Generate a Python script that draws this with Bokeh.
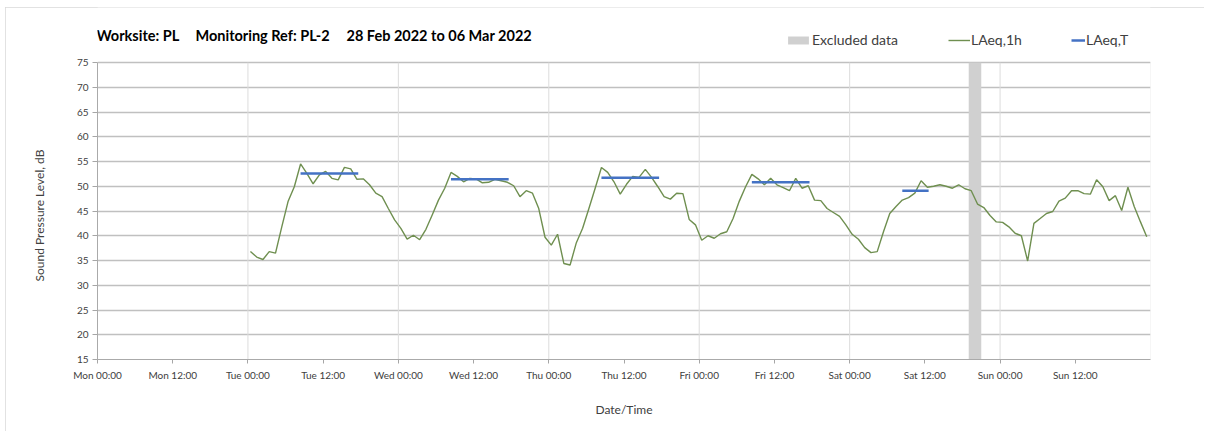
from bokeh.plotting import figure
from bokeh.models import FixedTicker, Label, Legend, LegendItem, Range1d, BoxAnnotation, Title
from bokeh.embed import file_html
from bokeh.resources import INLINE

# ---------------- data ----------------
TITLE_PARTS = ["Worksite: PL", "Monitoring Ref: PL-2", "28 Feb 2022 to 06 Mar 2022"]
Y_TITLE = "Sound Pressure Level, dB"
X_TITLE = "Date/Time"
Y_TICKS = [15, 20, 25, 30, 35, 40, 45, 50, 55, 60, 65, 70, 75]
X_TICK_HOURS = [0, 12, 24, 36, 48, 60, 72, 84, 96, 108, 120, 132, 144, 156]
X_TICK_LABELS = ["Mon 00:00", "Mon 12:00", "Tue 00:00", "Tue 12:00", "Wed 00:00",
                 "Wed 12:00", "Thu 00:00", "Thu 12:00", "Fri 00:00", "Fri 12:00",
                 "Sat 00:00", "Sat 12:00", "Sun 00:00", "Sun 12:00"]
DAY_GRID_HOURS = [24, 48, 72, 96, 120, 144]

# hourly LAeq,1h from Tue 00:00 (hours since Mon 00:00)
laeq_1h_start_hour = 24.4
laeq_1h = [
    # Tue
    36.8, 35.7, 35.2, 36.8, 36.5, 41.8, 46.9, 49.9, 54.5, 52.6, 50.5, 52.3,
    53.0, 51.6, 51.3, 53.8, 53.5, 51.4, 51.5, 50.3, 48.6, 47.9, 45.5, 43.2,
    # Wed
    41.5, 39.3, 40.1, 39.2, 41.3, 44.2, 47.2, 49.6, 52.8, 52.0, 50.9, 51.6,
    51.5, 50.7, 50.8, 51.4, 51.1, 50.8, 50.1, 47.9, 49.1, 48.6, 45.5, 39.7,
    # Thu
    38.1, 40.3, 34.4, 34.1, 38.6, 41.5, 45.5, 49.6, 53.8, 52.8, 50.9, 48.4,
    50.4, 52.0, 51.8, 53.4, 51.8, 49.9, 47.9, 47.4, 48.6, 48.5, 43.3, 42.2,
    # Fri
    39.1, 40.0, 39.5, 40.4, 40.8, 43.5, 47.0, 49.9, 52.4, 51.5, 50.3, 51.6,
    50.3, 49.7, 49.1, 51.6, 49.6, 50.1, 47.2, 47.1, 45.5, 44.7, 43.9, 42.2,
    # Sat
    40.3, 39.3, 37.6, 36.6, 36.8, 40.8, 44.5, 45.9, 47.2, 47.7, 48.6, 51.1,
    49.8, 50.0, 50.3, 50.0, 49.6, 50.3, 49.5, 49.1, 46.4, 45.7, 44.1, 42.8,
    # Sun
    42.7, 41.8, 40.5, 40.0, 34.9, 42.5, 43.5, 44.5, 44.9, 47.0, 47.6, 49.1,
    49.1, 48.5, 48.4, 51.3, 49.9, 47.1, 48.1, 45.1, 49.8, 45.9, 42.8, 39.8,
]
laeq_1h_hours = [laeq_1h_start_hour + i for i in range(len(laeq_1h))]

# LAeq,T working-period levels
laeq_T_start = [32.4, 56.4, 80.4, 104.4, 128.4]
laeq_T_end = [41.6, 65.6, 89.6, 113.6, 132.6]
laeq_T = [52.6, 51.4, 51.7, 50.8, 49.1]

# excluded data period (hours since Mon 00:00)
excluded_start = [139.0]
excluded_end = [141.0]

Y_MIN, Y_MAX = 15, 75
X_MIN, X_MAX = 0, 168

FONT = "Lato"
TXT = "#404040"

# layout (page coordinates)
OX, OY = 5, 7                      # figure origin on page
FR_L, FR_R, FR_B = 97, 1150, 359   # frame left/right/bottom
PLOT_TOP = 62                      # pixel row of the 75 dB line
W, H = 1204 - OX, 431 - OY
frame_h = FR_B - OY
y_top = Y_MIN + frame_h * (Y_MAX - Y_MIN) / (FR_B - PLOT_TOP)

p = figure(width=W, height=H, x_range=Range1d(X_MIN, X_MAX), y_range=Range1d(Y_MIN, y_top),
           output_backend="svg", toolbar_location=None,
           min_border_left=FR_L - OX, min_border_right=W - (FR_R - OX),
           min_border_top=0, min_border_bottom=H - (FR_B - OY))
p.styles = {"outline": "1px solid #d9d9d9", "outline-offset": "-1px",
            "margin-left": f"{OX}px", "margin-top": f"{OY}px"}
p.background_fill_color = "white"
p.border_fill_color = "white"
p.outline_line_color = None

# vertical day gridlines (limited to the plot area)
p.segment(x0=DAY_GRID_HOURS, y0=[Y_MIN] * len(DAY_GRID_HOURS),
          x1=DAY_GRID_HOURS, y1=[Y_MAX] * len(DAY_GRID_HOURS),
          line_color="#dcdcdc", line_width=1)

excl = p.quad(left=excluded_start, right=excluded_end, bottom=[Y_MIN], top=[Y_MAX],
              fill_color="#d0d0d0", line_color=None)
green = p.line(laeq_1h_hours, laeq_1h, line_color="#6f8f50", line_width=1.4)
blue = p.segment(x0=laeq_T_start, y0=laeq_T, x1=laeq_T_end, y1=laeq_T,
                 line_color="#4472c4", line_width=2.5)

# plot-area border
p.add_layout(BoxAnnotation(left=X_MIN, right=X_MAX, bottom=Y_MIN, top=Y_MAX,
                           fill_alpha=0, line_color="#bfbfbf", line_width=1))

# axes
xa = p.xaxis[0]
xa.ticker = FixedTicker(ticks=X_TICK_HOURS)
xa.major_label_overrides = {h: l for h, l in zip(X_TICK_HOURS, X_TICK_LABELS)}
ya = p.yaxis[0]
ya.ticker = FixedTicker(ticks=Y_TICKS)
ya.bounds = (Y_MIN, Y_MAX)
for ax in (xa, ya):
    ax.minor_tick_line_color = None
    ax.major_tick_in = 0
    ax.axis_line_color = "#a6a6a6"
    ax.major_tick_line_color = "#a6a6a6"
    ax.major_label_text_font = FONT
    ax.major_label_text_font_size = "10px"
    ax.major_label_text_color = TXT
    ax.axis_label_text_font = FONT
    ax.axis_label_text_font_size = "12px"
    ax.axis_label_text_font_style = "normal"
    ax.axis_label_text_color = TXT
xa.axis_label = X_TITLE
xa.major_tick_out = 4
xa.major_label_standoff = 5
xa.axis_label_standoff = 18
ya.major_tick_out = 5
ya.major_label_standoff = 4

# y-axis title, centred on the 15-75 dB plot area
p.add_layout(Title(text=Y_TITLE, align="left", offset=78, standoff=50,
                   vertical_align="top",
                   text_font=FONT, text_font_size="12px", text_font_style="normal",
                   text_color=TXT), "left")

p.xgrid[0].visible = False
p.ygrid[0].ticker = FixedTicker(ticks=Y_TICKS)
p.ygrid[0].grid_line_color = "#c0c0c0"
p.ygrid[0].grid_line_width = 1.3

# chart title
title_x = [96, 195, 346]
for t, xx in zip(TITLE_PARTS, title_x):
    p.add_layout(Label(x=xx - FR_L, y=FR_B - 35, x_units="screen", y_units="screen",
                       text=t, text_font=FONT, text_font_size="14.5px",
                       text_font_style="bold", text_color="black",
                       text_baseline="middle"))

# legends
leg_specs = [(excl, "Excluded data", 785, 26), (green, "LAeq,1h", 948, 22),
             (blue, "LAeq,T", 1071, 14)]
for r, lab, xx, gw in leg_specs:
    lg = Legend(items=[LegendItem(label=lab, renderers=[r])],
                location=(xx - FR_L, FR_B - 48), orientation="horizontal",
                padding=0, margin=0, spacing=0, glyph_width=gw, glyph_height=10,
                label_standoff=1, label_height=16, label_text_font=FONT,
                label_text_font_size="14px", label_text_color=TXT,
                border_line_color=None, background_fill_alpha=0)
    p.add_layout(lg)

open("out.html", "w").write(file_html(p, INLINE))
